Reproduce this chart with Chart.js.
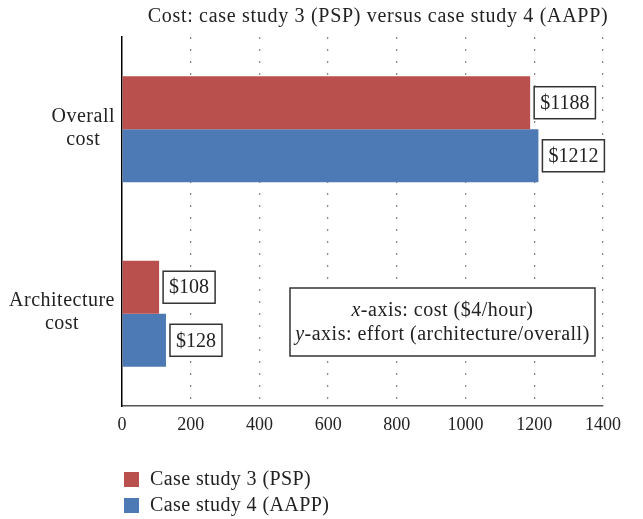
<!DOCTYPE html>
<html>
<head>
<meta charset="utf-8">
<script src="https://cdn.jsdelivr.net/npm/chart.js@4.4.1/dist/chart.umd.min.js"></script>
<style>
    html, body { margin: 0; padding: 0; background: #fff; }
    #wrap { width: 643px; height: 519px; }
</style>
</head>
<body>
<div id="wrap"><canvas id="costChart" width="643" height="519"></canvas></div>
<script>
// chart data
const categories = [['Overall', 'cost'], ['Architecture', 'cost']];
const seriesNames = ['Case study 3 (PSP)', 'Case study 4 (AAPP)'];
const pspCost = [1188, 108];
const aappCost = [1212, 128];
const xTickMin = 0;
const xTickMax = 1400;
const xTickStep = 200;
const titleText = 'Cost: case study 3 (PSP) versus case study 4 (AAPP)';
const noteLines = [['x', '-axis: cost ($4/hour)'], ['y', '-axis: effort (architecture/overall)']];

const FONT = '"Liberation Serif", "Times New Roman", serif';
const RED = '#b9504d';
const BLUE = '#4d7ab4';

// draws title, y labels, value boxes, note box and legend
const decorations = {
    id: 'decorations',
    afterDatasetsDraw(chart) {
        const ctx = chart.ctx;
        const area = chart.chartArea;
        const yScale = chart.scales.y;
        ctx.save();

        // title
        ctx.fillStyle = '#222';
        ctx.font = '20px ' + FONT;
        ctx.letterSpacing = '0.7px';
        ctx.textAlign = 'center';
        ctx.textBaseline = 'middle';
        ctx.fillText(titleText, 378, 17);

        // y category labels: block right aligned, lines centred
        ctx.letterSpacing = '0.5px';
        categories.forEach((lines, i) => {
            const cy = yScale.getPixelForValue(i);
            const w = Math.max(...lines.map(l => ctx.measureText(l).width));
            const cx = area.left - 7 - w / 2;
            lines.forEach((l, j) => {
                ctx.fillText(l, cx, cy - 13 + j * 23);
            });
        });

        // value boxes
        ctx.font = '20px ' + FONT;
        ctx.letterSpacing = '0px';
        chart.data.datasets.forEach((ds, di) => {
            const meta = chart.getDatasetMeta(di);
            meta.data.forEach((bar, i) => {
                const txt = '$' + ds.data[i];
                const tw = ctx.measureText(txt).width;
                const bw = tw + 12, bh = 32;
                const bx = bar.x + 4, by = bar.y - bh / 2;
                ctx.fillStyle = '#fff';
                ctx.fillRect(bx, by, bw, bh);
                ctx.strokeStyle = '#333';
                ctx.lineWidth = 1.5;
                ctx.strokeRect(bx, by, bw, bh);
                ctx.fillStyle = '#222';
                ctx.textAlign = 'center';
                ctx.fillText(txt, bx + bw / 2, bar.y + 1);
            });
        });

        // note box
        const nx = 290, ny = 288, nw = 305, nh = 68;
        ctx.fillStyle = '#fff';
        ctx.fillRect(nx, ny, nw, nh);
        ctx.strokeStyle = '#333';
        ctx.lineWidth = 1.5;
        ctx.strokeRect(nx, ny, nw, nh);
        ctx.fillStyle = '#222';
        ctx.letterSpacing = '0.5px';
        noteLines.forEach((parts, j) => {
            ctx.font = 'italic 20px ' + FONT;
            const w1 = ctx.measureText(parts[0]).width;
            ctx.font = '20px ' + FONT;
            const w2 = ctx.measureText(parts[1]).width;
            const sx = nx + nw / 2 - (w1 + w2) / 2;
            const ly = ny + 23 + j * 24;
            ctx.textAlign = 'left';
            ctx.font = 'italic 20px ' + FONT;
            ctx.fillText(parts[0], sx, ly);
            ctx.font = '20px ' + FONT;
            ctx.fillText(parts[1], sx + w1, ly);
        });

        // legend
        chart.data.datasets.forEach((ds, di) => {
            const ly = 479 + di * 26;
            ctx.fillStyle = ds.backgroundColor;
            ctx.fillRect(124, ly - 7, 15, 15);
            ctx.fillStyle = '#222';
            ctx.textAlign = 'left';
            ctx.font = '20px ' + FONT;
            ctx.letterSpacing = '0.4px';
            ctx.fillText(ds.label, 150, ly + 1);
        });

        ctx.restore();
    }
};

const chart = new Chart(document.getElementById('costChart'), {
    type: 'bar',
    data: {
        labels: categories,
        datasets: [
            { label: seriesNames[0], data: pspCost, backgroundColor: RED },
            { label: seriesNames[1], data: aappCost, backgroundColor: BLUE }
        ]
    },
    options: {
        indexAxis: 'y',
        responsive: false,
        animation: false,
        events: [],
        layout: { padding: { left: 0, top: 37, right: 40, bottom: 83 } },
        datasets: {
            bar: { categoryPercentage: 0.575, barPercentage: 1.0 }
        },
        scales: {
            x: {
                min: xTickMin,
                max: xTickMax,
                ticks: {
                    stepSize: xTickStep,
                    color: '#222',
                    font: { family: FONT, size: 18 },
                    padding: 8,
                    callback: v => String(v)
                },
                grid: {
                    color: c => (c.tick && c.tick.value === 0) ? 'rgba(0,0,0,0)' : '#8a8a8a',
                    lineWidth: 1.3,
                    drawTicks: false
                },
                border: { color: '#555', width: 1.5, dash: [2, 10] },
                afterFit: s => { s.height = 30; }
            },
            y: {
                ticks: { display: false },
                grid: { display: false },
                border: { color: '#000', width: 1.5 },
                afterFit: s => { s.width = 122; }
            }
        },
        plugins: {
            legend: { display: false },
            title: { display: false },
            tooltip: { enabled: false }
        }
    },
    plugins: [decorations]
});
</script>
</body>
</html>
